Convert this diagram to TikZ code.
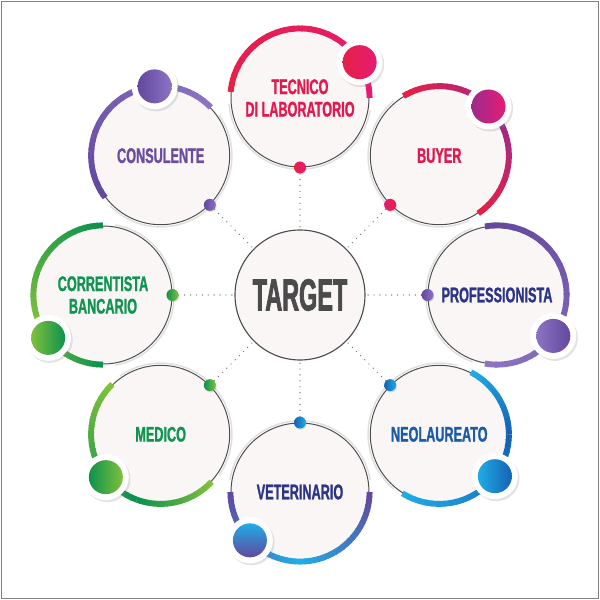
\documentclass[tikz,border=0pt]{standalone}
\usepackage{xcolor}
\usepackage{fontspec}
\usepackage{tikz}
\usetikzlibrary{positioning, calc, shadows}
\newfontfamily\labelfont[FakeStretch=0.6, BoldFeatures={FakeBold=1.2}]{Liberation Sans}
\newfontfamily\hubfont[FakeStretch=0.52, BoldFeatures={FakeBold=1.6}]{Liberation Sans}
\definecolor{myring}{RGB}{77,77,77}
\definecolor{myfill}{RGB}{250,246,246}
\definecolor{mycrimson}{RGB}{230,32,68}
\definecolor{mypink}{RGB}{228,28,118}
\definecolor{mymagenta}{RGB}{158,42,140}
\definecolor{myviolet}{RGB}{98,72,158}
\definecolor{mylilac}{RGB}{140,115,195}
\definecolor{mynavy}{RGB}{43,52,134}
\definecolor{myblue}{RGB}{22,98,178}
\definecolor{mycyan}{RGB}{32,172,230}
\definecolor{mygreen}{RGB}{12,146,78}
\definecolor{mylime}{RGB}{128,192,60}
\definecolor{mytext}{RGB}{75,75,75}
\definecolor{txtred}{RGB}{226,25,79}
\definecolor{txtblue}{RGB}{28,91,168}
\definecolor{txtgreen}{RGB}{14,149,80}
\definecolor{txtviolet}{RGB}{106,76,160}
\tikzset{
  hub/.style={circle, draw=myring, fill=myfill, minimum size=3.25cm,
    inner sep=0pt, line width=0.8pt, text=mytext,
    font=\hubfont\bfseries\fontsize{32}{34}\selectfont},
  sat/.style={circle, draw=myring, fill=myfill, minimum size=3.45cm,
    inner sep=0pt, line width=0.7pt, align=center,
    font=\labelfont\bfseries\fontsize{15}{16}\selectfont},
  halo/.style={circle, fill=white, minimum size=1.15cm, inner sep=0pt,
    drop shadow={shadow xshift=0.04cm, shadow yshift=-0.05cm, opacity=0.22}},
  ball/.style={circle, minimum size=0.85cm, inner sep=0pt},
  dot/.style={circle, minimum size=0.3cm, inner sep=0pt,
    drop shadow={shadow xshift=0.02cm, shadow yshift=-0.03cm, opacity=0.25}},
  band/.style={line width=4.2pt, line cap=butt},
  faint/.style={line width=1.1pt, draw=black!12},
  link/.style={draw=myring!80, line width=1pt, line cap=round,
    dash pattern=on 0pt off 4.2pt}
}
% coloured band on a satellite: node, from angle, to angle, from colour, to colour
\newcommand{\ringband}[5]{%
  \foreach \k in {0,...,23}{
    \pgfmathsetmacro{\pa}{#2+(#3-#2)*\k/24}
    \pgfmathsetmacro{\pb}{#2+(#3-#2)*min(\k+1.2,24)/24}
    \pgfmathtruncatemacro{\mix}{100-100*\k/23}
    \draw[band, draw=#4!\mix!#5] ([shift={(\pa:1.74)}]#1.center)
      arc[start angle=\pa, end angle=\pb, radius=1.74];
  }}
% pale offset line on the rest of the ring
\newcommand{\ringshade}[3]{%
  \draw[faint] ([shift={(#2:1.78)}]#1.center) arc[start angle=#2, end angle=#3, radius=1.78];}

\begin{document}
\begin{tikzpicture}
  \useasboundingbox (-7.5,-7.625) rectangle (7.5,7.375);
  \draw[black!50, line width=0.9pt] (-7.46,-7.585) rectangle (7.46,7.335);

  \node[hub] (hub) at (0,0) {TARGET};

  % satellites
  \node[sat, text=txtred] (tec) at (90:4.925) {TECNICO\\DI LABORATORIO};
  \node[sat, text=txtred] (buy) at (45:4.925) {BUYER};
  \node[sat, text=mynavy] (pro) at (0:4.925) {PROFESSIONISTA};
  \node[sat, text=txtblue] (neo) at (-45:4.925) {NEOLAUREATO};
  \node[sat, text=mynavy] (vet) at (-90:4.925) {VETERINARIO};
  \node[sat, text=txtgreen] (med) at (225:4.925) {MEDICO};
  \node[sat, text=txtgreen] (cor) at (180:4.925) {CORRENTISTA\\BANCARIO};
  \node[sat, text=txtviolet] (con) at (135:4.925) {CONSULENTE};

  \ringshade{tec}{185}{350}
  \ringshade{buy}{130}{295}
  \ringshade{pro}{110}{250}
  \ringshade{neo}{75}{230}
  \ringshade{vet}{10}{170}
  \ringshade{med}{-35}{125}
  \ringshade{cor}{-80}{80}
  \ringshade{con}{-135}{35}

  \ringband{tec}{0}{175}{mypink}{mycrimson}
  \ringband{buy}{-56}{30}{mycrimson}{mymagenta}
  \ringband{buy}{30}{121}{mymagenta}{mycrimson}
  \ringband{pro}{-100}{100}{mylilac}{myviolet}
  \ringband{neo}{-122}{0}{mycyan}{myblue}
  \ringband{neo}{0}{63}{myblue}{mycyan}
  \ringband{vet}{180}{270}{myviolet}{mycyan}
  \ringband{vet}{270}{360}{mycyan}{myviolet}
  \ringband{med}{134}{250}{mylime}{mygreen}
  \ringband{med}{250}{317}{mygreen}{mylime}
  \ringband{cor}{90}{205}{mygreen}{mylime}
  \ringband{cor}{205}{270}{mylime}{mygreen}
  \ringband{con}{44}{217}{mylilac}{myviolet}

  % big balls
  \node[halo] (tecball) at ([shift={(31:1.74)}]tec.center) {};
  \node[ball, left color=mycrimson, right color=mypink] at (tecball) {};
  \node[halo] (buyball) at ([shift={(45:1.74)}]buy.center) {};
  \node[ball, left color=mymagenta, right color=mypink] at (buyball) {};
  \node[halo] (proball) at ([shift={(-36:1.74)}]pro.center) {};
  \node[ball, left color=mylilac, right color=myviolet] at (proball) {};
  \node[halo] (neoball) at ([shift={(-37:1.74)}]neo.center) {};
  \node[ball, left color=mycyan, right color=myblue] at (neoball) {};
  \node[halo] (vetball) at ([shift={(224:1.74)}]vet.center) {};
  \node[ball, top color=mycyan, bottom color=myviolet] at (vetball) {};
  \node[halo] (medball) at ([shift={(218:1.74)}]med.center) {};
  \node[ball, left color=mygreen, right color=mylime] at (medball) {};
  \node[halo] (corball) at ([shift={(218:1.74)}]cor.center) {};
  \node[ball, left color=mylime, right color=mygreen] at (corball) {};
  \node[halo] (conball) at ([shift={(95:1.74)}]con.center) {};
  \node[ball, left color=myviolet, right color=mylilac] at (conball) {};

  % small dots facing the hub
  \node[dot, left color=mycrimson, right color=mypink] (tecdot) at (tec.south) {};
  \node[dot, left color=mypink, right color=mycrimson] (buydot) at (buy.south west) {};
  \node[dot, left color=myviolet, right color=mylilac] (prodot) at (pro.west) {};
  \node[dot, left color=myblue, right color=mycyan] (neodot) at (neo.north west) {};
  \node[dot, left color=myblue, right color=mycyan] (vetdot) at (vet.north) {};
  \node[dot, left color=mygreen, right color=mylime] (meddot) at (med.north east) {};
  \node[dot, left color=mygreen, right color=mylime] (cordot) at (cor.east) {};
  \node[dot, left color=myviolet, right color=mylilac] (condot) at (con.south east) {};

  \draw[link] (tecdot) -- (hub);
  \draw[link] (buydot) -- (hub);
  \draw[link] (prodot) -- (hub);
  \draw[link] (neodot) -- (hub);
  \draw[link] (vetdot) -- (hub);
  \draw[link] (meddot) -- (hub);
  \draw[link] (cordot) -- (hub);
  \draw[link] (condot) -- (hub);
\end{tikzpicture}
\end{document}
